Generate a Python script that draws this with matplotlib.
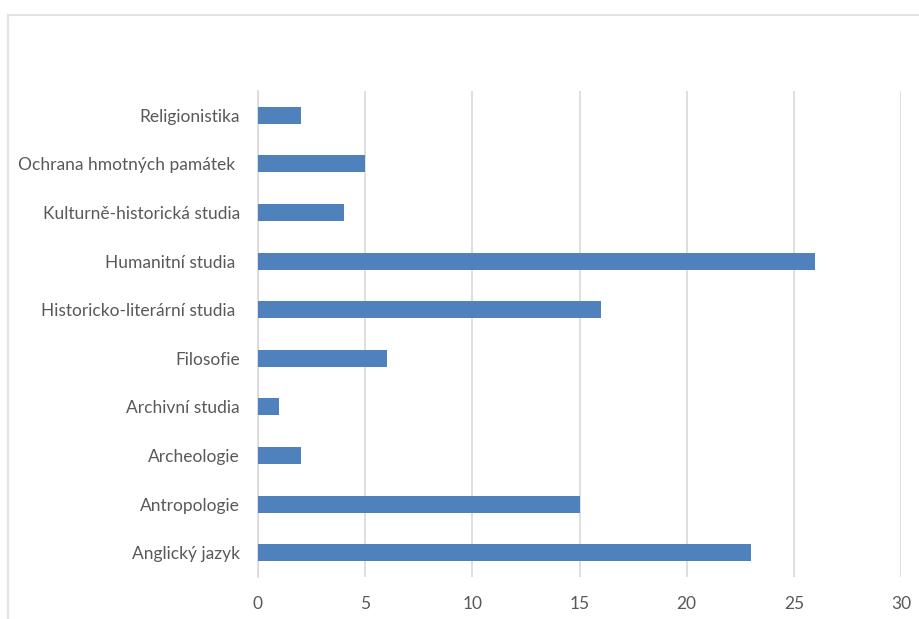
import matplotlib.pyplot as plt
from matplotlib.lines import Line2D

# Data (bottom to top)
categories = ['Anglický jazyk', 'Antropologie', 'Archeologie', 'Archivní studia', 'Filosofie',
              'Historicko-literární studia ', 'Humanitní studia ', 'Kulturně-historická studia',
              'Ochrana hmotných památek ', 'Religionistika']
values = [23, 15, 2, 1, 6, 16, 26, 4, 5, 2]
xticks = [0, 5, 10, 15, 20, 25, 30]

bar_color = '#4F81BD'
text_color = '#595959'
grid_color = '#D9D9D9'

plt.rcParams['font.family'] = ['Lato', 'DejaVu Sans']

fig = plt.figure(figsize=(9.2, 6.19), dpi=100)
ax = fig.add_axes([258 / 920, 42 / 619, 643 / 920, 486 / 619])

ax.barh(range(len(categories)), values, height=0.35, color=bar_color, zorder=3)

ax.set_xlim(0, 30)
ax.set_ylim(-0.5, len(categories) - 0.5)
ax.set_xticks(xticks)
ax.set_yticks(range(len(categories)))
ax.set_yticklabels(categories)
ax.tick_params(axis='both', length=0, labelsize=12.5, colors=text_color)
ax.tick_params(axis='x', pad=14)
ax.tick_params(axis='y', pad=13)

ax.grid(axis='x', color=grid_color, linewidth=1.2, zorder=0)
for side in ['top', 'right', 'bottom']:
    ax.spines[side].set_visible(False)
ax.spines['left'].set_color(grid_color)
ax.spines['left'].set_linewidth(1.2)

# chart frame (cut off at right and bottom)
fig.add_artist(Line2D([8 / 920, 1], [1 - 15 / 619, 1 - 15 / 619], color='#E3E3E3', linewidth=1.5,
                      transform=fig.transFigure))
fig.add_artist(Line2D([8 / 920, 8 / 920], [0, 1 - 15 / 619], color='#E3E3E3', linewidth=1.5,
                      transform=fig.transFigure))

plt.savefig('out.png', dpi=100)
